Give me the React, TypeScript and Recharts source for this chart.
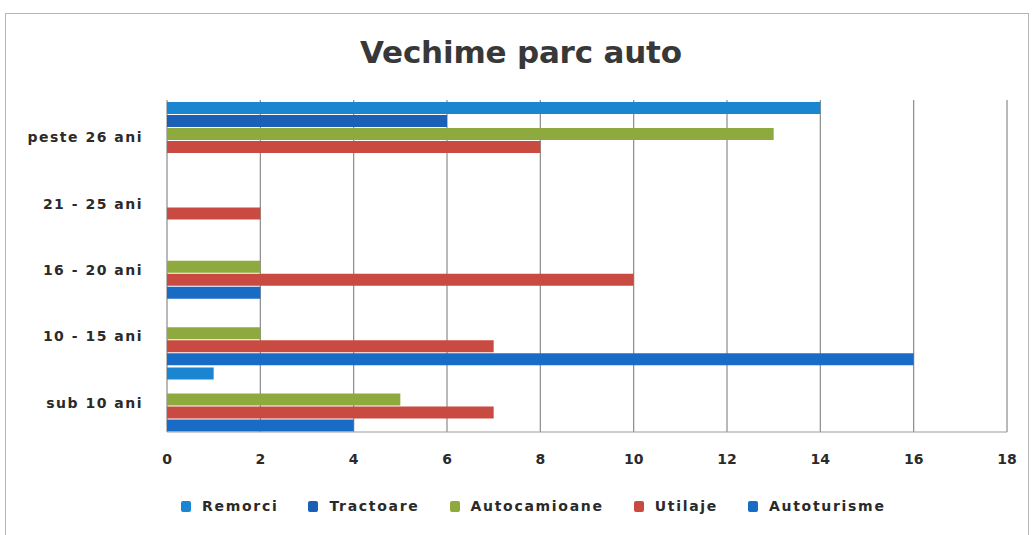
import { BarChart, Bar, XAxis, YAxis, CartesianGrid } from 'recharts'

const categories = ['peste 26 ani', '21 - 25 ani', '16 - 20 ani', '10 - 15 ani', 'sub 10 ani']
const remorci = [14, 0, 0, 0, 1]
const tractoare = [6, 0, 0, 0, 0]
const autocamioane = [13, 0, 2, 2, 5]
const utilaje = [8, 2, 10, 7, 7]
const autoturisme = [0, 0, 2, 16, 4]
const xTicks = [0, 2, 4, 6, 8, 10, 12, 14, 16, 18]

const series = [
  { key: 'remorci', name: 'Remorci', color: '#1a86d2', values: remorci },
  { key: 'tractoare', name: 'Tractoare', color: '#1c5fb6', values: tractoare },
  { key: 'autocamioane', name: 'Autocamioane', color: '#8eaa3e', values: autocamioane },
  { key: 'utilaje', name: 'Utilaje', color: '#c94a40', values: utilaje },
  { key: 'autoturisme', name: 'Autoturisme', color: '#196cc6', values: autoturisme },
]

const data = categories.map((cat, i) => {
  const row: Record<string, string | number> = { cat }
  series.forEach((s) => { row[s.key] = s.values[i] })
  return row
})

const font = '"DejaVu Sans", sans-serif'

export default function App() {
  return (
    <div style={{ position: 'absolute', left: 0, top: 0, width: 1034, height: 535, background: '#fff', fontFamily: font, overflow: 'hidden' }}>
      <div style={{ position: 'absolute', left: 5, top: 13, width: 1024, height: 530, border: '1px solid #b5b5b5', boxSizing: 'border-box' }} />
      <div style={{ position: 'absolute', left: 360, top: 33, whiteSpace: 'nowrap', fontSize: 31, fontWeight: 700, color: '#383838', letterSpacing: -0.2, lineHeight: '38px' }}>
        Vechime parc auto
      </div>
      <div style={{ position: 'absolute', left: 0, top: 0 }}>
        <BarChart
          width={1034}
          height={535}
          data={data}
          layout="vertical"
          margin={{ top: 100, right: 27, bottom: 0, left: 0 }}
          barCategoryGap={2}
          barGap={1}
        >
          <CartesianGrid horizontal={false} stroke="#8a8a8a" strokeWidth={1.2} />
          <XAxis
            type="number"
            domain={[0, 18]}
            ticks={xTicks}
            height={103}
            axisLine={{ stroke: '#9a9a9a' }}
            tickLine={false}
            tickMargin={16}
            tick={{ fill: '#2a2a2a', fontSize: 14, fontWeight: 700, fontFamily: font }}
          />
          <YAxis
            type="category"
            dataKey="cat"
            width={167}
            axisLine={false}
            tickLine={false}
            tickMargin={18}
            tick={{ fill: '#2a2a2a', fontSize: 14, fontWeight: 700, fontFamily: font, letterSpacing: 1.5, dy: 4 }}
          />
          {series.map((s) => (
            <Bar key={s.key} dataKey={s.key} name={s.name} fill={s.color} isAnimationActive={false} />
          ))}
        </BarChart>
      </div>
      <div style={{ position: 'absolute', left: 181, top: 498, display: 'flex', alignItems: 'center', fontSize: 14, fontWeight: 700, color: '#2a2a2a', letterSpacing: 1.7 }}>
        {series.map((s) => (
          <div key={s.key} style={{ display: 'flex', alignItems: 'center', marginRight: 30 }}>
            <span style={{ display: 'inline-block', width: 10, height: 11, borderRadius: 2, background: s.color, marginRight: 11 }} />
            {s.name}
          </div>
        ))}
      </div>
    </div>
  )
}
